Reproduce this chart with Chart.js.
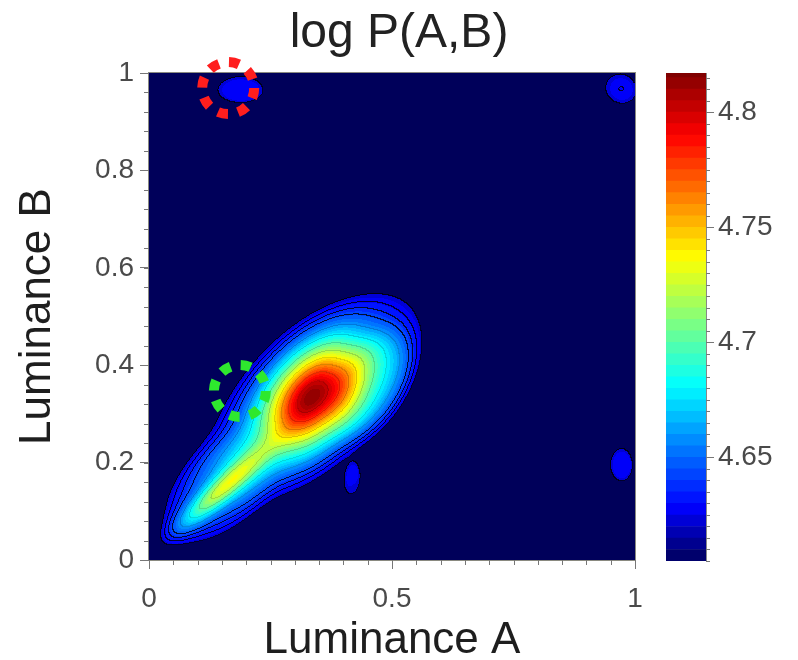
<!DOCTYPE html>
<html>
<head>
<meta charset="utf-8">
<script src="https://cdn.jsdelivr.net/npm/chart.js@4.4.1/dist/chart.umd.min.js"></script>
<style>
  html, body { margin: 0; padding: 0; background: #fff; }
  #wrap { position: relative; width: 798px; height: 660px; }
  #densityChart { position: absolute; left: 0; top: 0; }
  #colorbarChart { position: absolute; left: 640px; top: 0; }
</style>
</head>
<body>
<div id="wrap">
  <canvas id="densityChart" width="798" height="660"></canvas>
  <canvas id="colorbarChart" width="158" height="660"></canvas>
</div>
<script>
// tick labels
const xTickValues = [0, 0.5, 1];
const yTickValues = [0, 0.2, 0.4, 0.6, 0.8, 1];
const colorTickValues = [4.65, 4.7, 4.75, 4.8];

// log P range on the colour bar, band width and first filled level
const logMin = 4.605;
const logMax = 4.817;
const logFloor = 4.600;
const levelStep = 0.005;
const fillStart = 4.622;

// density bumps (luminance units): centre, spread along / across the tilt, tilt in degrees,
// height of log P above the floor, sharpness of the edge
const bumpX      = [0.340, 0.133, 0.335, 0.150, 0.460, 0.189, 0.972, 0.973, 0.420];
const bumpY      = [0.335, 0.136, 0.335, 0.145, 0.360, 0.965, 0.967, 0.195, 0.160];
const bumpAlong  = [0.290, 0.140, 0.125, 0.115, 0.120, 0.066, 0.055, 0.032, 0.024];
const bumpAcross = [0.137, 0.085, 0.075, 0.025, 0.070, 0.038, 0.060, 0.047, 0.045];
const bumpTilt   = [43, 45, 50, 42, 60, 0, 60, 0, -10];
const bumpHeight = [0.044, 0.034, 0.170, 0.075, 0.030, 0.028, 0.0292, 0.028, 0.0235];
const bumpSharp  = [2, 2, 1, 1, 2, 2, 1, 2, 2];

// contour lines drawn over the filled levels
const lineLevels = [4.622, 4.629, 4.636, 4.644, 4.66, 4.68, 4.70, 4.72, 4.74, 4.76, 4.78, 4.80];

// dotted rings
const ringX = [0.163, 0.187];
const ringY = [0.969, 0.347];

Chart.defaults.font.family = '"Liberation Sans", Arial, Helvetica, sans-serif';

const jetStops = [
  [0.00, [0, 0, 90]],
  [0.11, [0, 0, 255]],
  [0.36, [0, 255, 255]],
  [0.62, [255, 255, 0]],
  [0.87, [255, 0, 0]],
  [1.00, [128, 0, 0]]
];

function jet(t) {
  t = Math.max(0, Math.min(1, t));
  for (let i = 1; i < jetStops.length; i++) {
    const [t1, c1] = jetStops[i];
    const [t0, c0] = jetStops[i - 1];
    if (t <= t1) {
      const f = (t - t0) / (t1 - t0);
      return c0.map((c, k) => Math.round(c + (c1[k] - c) * f));
    }
  }
  return jetStops[jetStops.length - 1][1];
}

const bandCount = Math.ceil((logMax - logMin) / levelStep);
function bandColor(k) {
  const mid = Math.min(logMin + (k + 0.5) * levelStep, logMax);
  return jet((mid - logMin) / (logMax - logMin));
}

function logDensity(x, y) {
  let v = logFloor;
  for (let k = 0; k < bumpX.length; k++) {
    const th = bumpTilt[k] * Math.PI / 180;
    const dx = x - bumpX[k], dy = y - bumpY[k];
    const u = (dx * Math.cos(th) + dy * Math.sin(th)) / bumpAlong[k];
    const w = (-dx * Math.sin(th) + dy * Math.cos(th)) / bumpAcross[k];
    const q = u * u + w * w;
    v += bumpHeight[k] * Math.exp(-Math.pow(q, bumpSharp[k]));
  }
  return v;
}

function lineIndex(v) {
  let n = 0;
  while (n < lineLevels.length && v >= lineLevels[n]) n++;
  return n;
}

// paints the filled contour field into the plot area
const densityPlugin = {
  id: 'densityField',
  beforeDatasetsDraw(chart) {
    const { ctx, chartArea: a, scales: { x, y } } = chart;
    const w = Math.round(a.right - a.left);
    const h = Math.round(a.bottom - a.top);
    const off = document.createElement('canvas');
    off.width = w; off.height = h;
    const octx = off.getContext('2d');
    const img = octx.createImageData(w, h);
    const vals = new Float32Array(w * h);
    const idx = new Uint8Array(w * h);
    const xs = [];
    for (let i = 0; i < w; i++) xs.push(x.getValueForPixel(a.left + i + 0.5));
    for (let j = 0; j < h; j++) {
      const yv = y.getValueForPixel(a.top + j + 0.5);
      for (let i = 0; i < w; i++) {
        const v = logDensity(xs[i], yv);
        vals[j * w + i] = v;
        idx[j * w + i] = lineIndex(v);
      }
    }
    const bg = jet(0);
    for (let p = 0; p < w * h; p++) {
      const v = vals[p];
      let c = bg;
      if (v >= fillStart) {
        const k = Math.min(bandCount - 1, Math.floor((v - logMin) / levelStep));
        c = bandColor(k);
      }
      let r = c[0], g = c[1], b = c[2];
      const i = p % w, j = (p - i) / w;
      let top = -1;
      if (i + 1 < w && idx[p + 1] !== idx[p]) top = Math.max(idx[p + 1], idx[p]);
      if (j + 1 < h && idx[p + w] !== idx[p]) top = Math.max(top, idx[p + w], idx[p]);
      if (top > 0) {
        const lvl = lineLevels[top - 1];
        const al = lvl < 4.65 ? 0.8 : 0.14;
        r *= 1 - al; g *= 1 - al; b *= 1 - al;
      }
      img.data[p * 4] = r;
      img.data[p * 4 + 1] = g;
      img.data[p * 4 + 2] = b;
      img.data[p * 4 + 3] = 255;
    }
    octx.putImageData(img, 0, 0);
    ctx.drawImage(off, a.left, a.top);
    ctx.save();
    ctx.strokeStyle = '#8a8a80';
    ctx.lineWidth = 1;
    ctx.strokeRect(a.left - 0.5, a.top - 0.5, w + 1, h + 1);
    ctx.restore();
  }
};

// small tick marks between the labelled ones
function minorTicks(chart, axisId, step, len) {
  const s = chart.scales[axisId];
  const { ctx, chartArea: a } = chart;
  ctx.save();
  ctx.strokeStyle = '#777';
  ctx.lineWidth = 1;
  ctx.beginPath();
  for (let v = s.min; v <= s.max + 1e-9; v += step) {
    const p = Math.round(s.getPixelForValue(v)) + 0.5;
    if (s.isHorizontal()) {
      ctx.moveTo(p, a.bottom); ctx.lineTo(p, a.bottom + len);
    } else if (s.position === 'left') {
      ctx.moveTo(a.left, p); ctx.lineTo(a.left - len, p);
    } else {
      ctx.moveTo(a.right, p); ctx.lineTo(a.right + len, p);
    }
  }
  ctx.stroke();
  ctx.restore();
}

const ringPlugin = {
  id: 'dottedRings',
  afterDatasetsDraw(chart) {
    const { ctx } = chart;
    const radius = 26;
    chart.data.datasets.forEach((ds, di) => {
      chart.getDatasetMeta(di).data.forEach(pt => {
        const circ = 2 * Math.PI * radius;
        ctx.save();
        ctx.strokeStyle = ds.ringColor;
        ctx.lineWidth = 10;
        ctx.setLineDash([circ / 16, circ / 16]);
        ctx.beginPath();
        ctx.arc(pt.x, pt.y, radius, 0, Math.PI * 2);
        ctx.stroke();
        ctx.restore();
      });
    });
    minorTicks(chart, 'x', 0.05, 5);
    minorTicks(chart, 'y', 0.04, 5);
  }
};

const tickFont = { size: 28 };
const tickColor = '#4a4a4a';

new Chart(document.getElementById('densityChart'), {
  type: 'scatter',
  data: {
    datasets: ringX.map((rx, i) => ({
      data: [{ x: rx, y: ringY[i] }],
      pointRadius: 0,
      ringColor: i === 0 ? '#ff1e1e' : '#2ee82e'
    }))
  },
  options: {
    responsive: false,
    animation: false,
    layout: { padding: 0 },
    plugins: {
      legend: { display: false },
      tooltip: { enabled: false },
      title: {
        display: true,
        text: 'log P(A,B)',
        color: '#222',
        font: { size: 48, weight: 'normal', lineHeight: 1.2 },
        padding: { top: 5, bottom: 10.4 }
      }
    },
    scales: {
      x: {
        type: 'linear', min: 0, max: 1,
        afterFit: s => { s.height = 100; },
        afterBuildTicks: s => { s.ticks = xTickValues.map(v => ({ value: v })); },
        ticks: { font: tickFont, color: tickColor, padding: 13, maxRotation: 0,
                 callback: v => String(+v.toFixed(2)) },
        grid: { drawOnChartArea: false, tickLength: 9, color: '#777' },
        border: { display: true, color: '#888' },
        title: { display: true, text: 'Luminance A', color: '#1e1e1e',
                 font: { size: 44, lineHeight: 0.85 }, padding: { top: 0, bottom: 0 } }
      },
      y: {
        type: 'linear', min: 0, max: 1,
        afterFit: s => { s.width = 149; },
        afterBuildTicks: s => { s.ticks = yTickValues.map(v => ({ value: v })); },
        ticks: { font: tickFont, color: tickColor, padding: 6,
                 callback: v => String(+v.toFixed(2)) },
        grid: { drawOnChartArea: false, tickLength: 9, color: '#777' },
        border: { display: true, color: '#888' },
        title: { display: true, text: 'Luminance B', color: '#1e1e1e',
                 font: { size: 44, lineHeight: 1 }, padding: { top: 16, bottom: 0 } }
      },
      // empty strip on the right, where the colour bar sits
      side: {
        type: 'linear', position: 'right', display: true,
        afterFit: s => { s.width = 163; },
        ticks: { display: false },
        grid: { display: false },
        border: { display: false }
      }
    }
  },
  plugins: [densityPlugin, ringPlugin]
});

// colour bar: one floating bar per filled level
const bandLows = [];
for (let k = 0; k < bandCount; k++) bandLows.push(logMin + k * levelStep);

const colorbarTicks = {
  id: 'colorbarTicks',
  afterDraw(chart) { minorTicks(chart, 'y', levelStep, 4); }
};

new Chart(document.getElementById('colorbarChart'), {
  type: 'bar',
  data: {
    labels: [''],
    datasets: bandLows.map((lo, k) => {
      const c = bandColor(k);
      return {
        data: [[lo, Math.min(lo + levelStep, logMax)]],
        backgroundColor: `rgb(${c[0]},${c[1]},${c[2]})`,
        borderWidth: 0,
        grouped: false,
        barPercentage: 1,
        categoryPercentage: 1
      };
    })
  },
  options: {
    responsive: false,
    animation: false,
    layout: { padding: { left: 26, right: 0, top: 73, bottom: 99 } },
    plugins: { legend: { display: false }, tooltip: { enabled: false } },
    scales: {
      x: { display: false },
      y: {
        position: 'right', min: logMin, max: logMax,
        afterFit: s => { s.width = 92; },
        afterBuildTicks: s => { s.ticks = colorTickValues.map(v => ({ value: v })); },
        ticks: { font: tickFont, color: tickColor, padding: 4,
                 callback: v => String(+v.toFixed(2)) },
        grid: { drawOnChartArea: false, tickLength: 8, color: '#777' },
        border: { display: true, color: '#888' }
      }
    }
  },
  plugins: [colorbarTicks]
});
</script>
</body>
</html>
